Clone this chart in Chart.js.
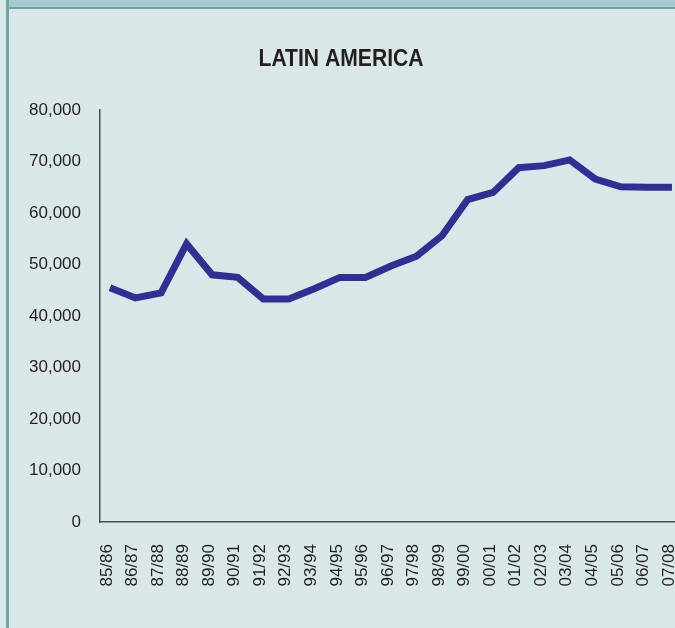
<!DOCTYPE html>
<html>
<head>
<meta charset="utf-8">
<script src="https://cdn.jsdelivr.net/npm/chart.js@4/dist/chart.umd.min.js"></script>
<style>
  html, body { margin: 0; padding: 0; overflow: hidden; }
  body { width: 675px; height: 628px; background: #dae7e8; position: relative; }
  /* top strip and left frame line */
  #strip { position: absolute; left: 9px; top: 0; width: 666px; height: 7px; background: #a8c9cd; border-bottom: 2px solid #6aa3a8; }
  #frame { position: absolute; left: 6px; top: 0; width: 3px; height: 628px; background: #6fa5a8; }
  #wrap { position: absolute; left: 0; top: 0; width: 686px; height: 628px; }
</style>
</head>
<body>
<div id="strip"></div>
<div id="frame"></div>
<div id="wrap"><canvas id="chart" width="686" height="628"></canvas></div>
<script>
// Categories (crop years)
const years = ['85/86', '86/87', '87/88', '88/89', '89/90', '90/91', '91/92', '92/93',
  '93/94', '94/95', '95/96', '96/97', '97/98', '98/99', '99/00', '00/01', '01/02',
  '02/03', '03/04', '04/05', '05/06', '06/07', '07/08'];

// Latin America values
const latinAmerica = [45500, 43500, 44500, 54000, 48000, 47500, 43300, 43300,
  45300, 47500, 47500, 49700, 51600, 55600, 62600, 64000, 68800,
  69200, 70300, 66600, 65100, 65000, 65000];

// Y axis tick range
const yMin = 0;
const yMax = 80000;
const yStep = 10000;

const chartTitle = 'LATIN AMERICA';
const tickFont = { family: 'Liberation Sans, Arial, sans-serif', size: 17 };

// no condensed bold font installed, so squeeze the title a bit by hand
const squeezedTitle = {
  id: 'squeezedTitle',
  afterDraw(chart) {
    const ctx = chart.ctx;
    ctx.save();
    ctx.font = 'bold 24px "Liberation Sans", Arial, sans-serif';
    ctx.fillStyle = '#231f20';
    ctx.textAlign = 'center';
    ctx.textBaseline = 'middle';
    ctx.translate(341, 59);
    ctx.scale(0.88, 1);
    ctx.fillText(chartTitle, 0, 0);
    ctx.restore();
  }
};

// points go on a numeric x axis (index of the year) so the edge gaps can be tuned
const points = latinAmerica.map((v, i) => ({ x: i, y: v }));

new Chart(document.getElementById('chart'), {
  type: 'line',
  data: {
    datasets: [{
      label: 'Latin America',
      data: points,
      borderColor: '#2e3192',
      borderWidth: 7,
      borderJoinStyle: 'miter',
      borderCapStyle: 'butt',
      pointRadius: 0,
      tension: 0,
      fill: false
    }]
  },
  options: {
    responsive: false,
    animation: false,
    layout: { padding: { top: 110, left: 0, right: 0, bottom: 0 } },
    plugins: {
      legend: { display: false },
      tooltip: { enabled: false },
      title: { display: false }
    },
    scales: {
      x: {
        type: 'linear',
        min: -0.39,
        max: 22.55,
        grid: { display: false, drawTicks: false },
        border: { display: true, color: '#4d4d4d', width: 1.5 },
        afterBuildTicks: (scale) => {
          scale.ticks = years.map((_, i) => ({ value: i }));
        },
        ticks: {
          color: '#231f20',
          font: tickFont,
          minRotation: 90,
          maxRotation: 90,
          autoSkip: false,
          padding: 22,
          labelOffset: -3,
          callback: (v) => years[v]
        },
        afterFit: (scale) => {
          scale.height = 106;
          scale.paddingLeft = 0;
          scale.paddingRight = 0;
        }
      },
      y: {
        min: yMin,
        max: yMax,
        grid: { display: false, drawTicks: false },
        border: { display: true, color: '#4d4d4d', width: 1.5 },
        ticks: {
          stepSize: yStep,
          color: '#231f20',
          font: tickFont,
          padding: 19,
          callback: (v) => v.toLocaleString('en-US')
        },
        afterFit: (scale) => {
          scale.width = 100;
          scale.paddingTop = 0;
          scale.paddingBottom = 0;
        }
      }
    }
  },
  plugins: [squeezedTitle]
});
</script>
</body>
</html>
